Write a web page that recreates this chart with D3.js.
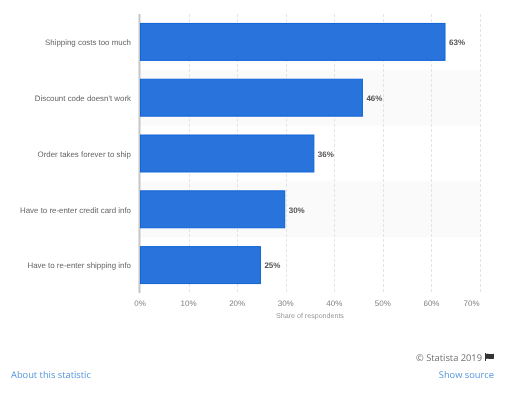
<!DOCTYPE html>
<html><head><meta charset="utf-8">
<script src="https://cdn.jsdelivr.net/npm/d3@7"></script>
<style>html,body{margin:0;padding:0;background:#fff}svg{display:block;will-change:transform}text{text-rendering:geometricPrecision}</style>
</head><body><svg id="c" width="512" height="393"></svg>
<script>
const categories=["Shipping costs too much","Discount code doesn't work","Order takes forever to ship","Have to re-enter credit card info","Have to re-enter shipping info"];
const values=[63,46,36,30,25];
const xTicks=[0,10,20,30,40,50,60,70];
const xTitle="Share of respondents";
const credit="© Statista 2019";
const leftLink="About this statistic";
const rightLink="Show source";

const font="'Liberation Sans',Arial,sans-serif";
const svg=d3.select("#c");
const x=d3.scaleLinear().domain([0,70]).range([140,480]);
const y=d3.scaleBand().domain(categories).range([14,293]).paddingInner(0).paddingOuter(0);
const inner=0.16;

svg.selectAll("rect.band").data(categories.filter((d,i)=>i%2==1)).join("rect")
 .attr("x",x(0)).attr("width",x(70)-x(0)).attr("y",d=>y(d)).attr("height",y.bandwidth()).attr("fill","#fafafa");

const ax=svg.append("g").attr("transform","translate(0,293)").call(d3.axisBottom(x).tickValues(xTicks).tickSize(0).tickFormat(d=>d+"%"));
ax.select(".domain").remove();
ax.selectAll("text").attr("y",7).attr("font-family",font).attr("font-size",8).attr("fill","#808080")
  .attr("text-anchor",d=>d==70?"end":"middle").attr("dx",d=>d==70?"-0.5":"0");
ax.selectAll(".tick").attr("transform",d=>`translate(${x(d)},0)`);

svg.selectAll("line.grid").data(xTicks.slice(1)).join("line")
 .attr("x1",d=>Math.round(x(d))+.5).attr("x2",d=>Math.round(x(d))+.5).attr("y1",14).attr("y2",293)
 .attr("stroke","#e4e4e4").attr("stroke-dasharray","3 2");

svg.append("line").attr("x1",x(0)-.5).attr("x2",x(0)-.5).attr("y1",14).attr("y2",293).attr("stroke","#c6c6c6").attr("stroke-width",2);

const row=categories.map((c,i)=>({c,v:values[i]}));
svg.selectAll("rect.bar").data(row).join("rect")
 .attr("x",x(0)+.5).attr("y",d=>y(d.c)+y.bandwidth()*inner+.5)
 .attr("width",d=>x(d.v)-x(0)-1.5).attr("height",y.bandwidth()*(1-2*inner)-1)
 .attr("fill","#2874dc").attr("stroke","#0f63d6").attr("stroke-width",1);

svg.selectAll("text.cat").data(categories).join("text")
 .attr("x",131).attr("y",d=>y(d)+y.bandwidth()/2+.5).attr("dy","0.35em").attr("text-anchor","end")
 .attr("font-family",font).attr("font-size",7.9).attr("fill","#666").text(d=>d);

svg.selectAll("text.val").data(row).join("text")
 .attr("x",d=>x(d.v)+3).attr("y",d=>y(d.c)+y.bandwidth()/2+.5).attr("dy","0.35em")
 .attr("font-family",font).attr("font-size",8).attr("font-weight","bold").attr("fill","#555").text(d=>d.v+"%");

svg.append("text").attr("x",310).attr("y",318).attr("text-anchor","middle")
 .attr("font-family",font).attr("font-size",7.1).attr("fill","#999").text(xTitle);

const df="'Open Sans','DejaVu Sans',sans-serif";
svg.append("text").attr("x",482).attr("y",361).attr("text-anchor","end").attr("font-family",df).attr("font-size",9.3).attr("fill","#707070").text(credit);
svg.append("path").attr("d","M485 353h1v8h-1z M486 354c2-1 4 .6 8-.2v5c-4 .8-6-.8-8 .2z").attr("fill","#333");
svg.append("text").attr("x",11).attr("y",378).attr("font-family",df).attr("font-size",9.3).attr("fill","#5597dd").text(leftLink);
svg.append("text").attr("x",494).attr("y",378).attr("text-anchor","end").attr("font-family",df).attr("font-size",9.3).attr("fill","#5597dd").text(rightLink);
</script></body></html>
